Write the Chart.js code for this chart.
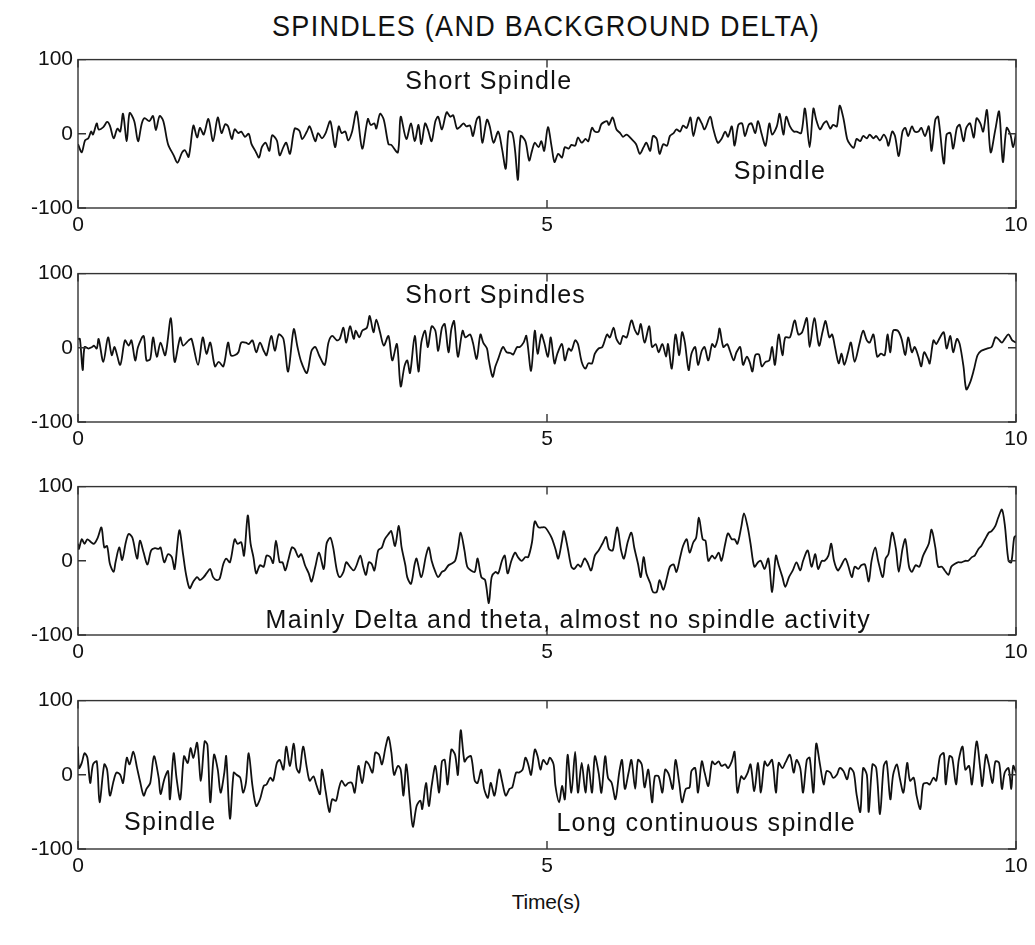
<!DOCTYPE html>
<html>
<head>
<meta charset="utf-8">
<script src="https://cdn.jsdelivr.net/npm/chart.js@4.4.1/dist/chart.umd.min.js"></script>
<style>
  html, body { margin: 0; padding: 0; background: #fff; }
  body { width: 1035px; height: 945px; position: relative; overflow: hidden; }
  canvas { position: absolute; left: 0; }
  .lbl { position: absolute; left: 0; width: 1092px; text-align: center; color: #111;
         font-family: "Liberation Sans", Arial, sans-serif; white-space: nowrap; }
  #title { top: 11px; font-size: 27px; letter-spacing: 1.3px; transform: scaleY(1.08); }
  #xlabel { top: 890px; font-size: 21px; letter-spacing: -0.3px; }
</style>
</head>
<body>
<div id="title" class="lbl">SPINDLES (AND BACKGROUND DELTA)</div>
<div id="xlabel" class="lbl">Time(s)</div>
<canvas id="c1" width="1035" height="206" style="top:42px"></canvas>
<canvas id="c2" width="1035" height="206" style="top:256px"></canvas>
<canvas id="c3" width="1035" height="206" style="top:469px"></canvas>
<canvas id="c4" width="1035" height="206" style="top:683px"></canvas>
<script>
// ---------- DATA (time in s, amplitude) ----------
const xTicks = [0, 5, 10];
const yTicks = [-100, 0, 100];

const t1 = [0,0.04,0.075,0.11,0.14,0.16,0.2,0.22,0.27,0.31,0.34,0.38,0.42,0.45,0.48,0.52,0.55,0.6,0.64,0.68,0.71,0.76,0.8,0.83,0.87,0.91,0.96,1.02,1.06,1.11,1.14,1.18,1.23,1.27,1.3,1.34,1.39,1.44,1.49,1.53,1.57,1.6,1.64,1.67,1.71,1.74,1.78,1.82,1.85,1.89,1.93,1.96,2.0,2.04,2.07,2.12,2.15,2.19,2.22,2.26,2.31,2.36,2.39,2.44,2.47,2.53,2.56,2.6,2.64,2.69,2.74,2.78,2.81,2.85,2.88,2.92,2.97,3.03,3.09,3.12,3.16,3.18,3.22,3.26,3.31,3.34,
3.41,3.44,3.5,3.55,3.59,3.63,3.66,3.7,3.73,3.77,3.81,3.84,3.88,3.93,3.97,4.0,4.04,4.07,4.11,4.14,4.18,4.21,4.25,4.28,4.31,4.36,4.39,4.43,4.48,4.52,4.56,4.59,4.63,4.66,4.69,4.72,4.77,4.81,4.84,4.87,4.91,4.94,4.97,5.01,5.05,5.08,5.12,5.16,5.19,5.23,5.26,5.3,5.33,5.37,5.41,5.44,5.48,5.51,5.55,5.58,5.64,5.66,5.7,5.74,5.78,5.81,5.85,5.9,5.95,5.99,6.03,6.06,6.1,6.13,6.17,6.2,6.24,6.28,6.31,6.35,6.38,6.42,6.45,6.49,6.53,6.56,6.61,6.65,6.68,
6.74,6.77,6.82,6.86,6.9,6.93,6.97,7.0,7.04,7.08,7.11,7.15,7.18,7.22,7.25,7.29,7.33,7.37,7.4,7.45,7.48,7.52,7.55,7.59,7.63,7.66,7.71,7.75,7.8,7.84,7.87,7.91,7.95,7.98,8.02,8.05,8.09,8.12,8.16,8.2,8.23,8.27,8.3,8.34,8.37,8.41,8.44,8.48,8.51,8.55,8.59,8.62,8.64,8.68,8.71,8.75,8.79,8.82,8.85,8.89,8.92,8.96,8.99,9.03,9.07,9.1,9.14,9.17,9.23,9.26,9.3,9.33,9.37,9.4,9.44,9.47,9.51,9.55,9.58,9.62,9.65,9.69,9.73,9.78,9.82,9.86,9.9,9.94,9.97,10.0];
const v1 = [-14,-25,-9,-6,3,-1,14,6,9,16,11,-6,7,3,27,-10,28,17,-10,14,21,17,24,5,24,17,-14,-29,-39,-25,-22,-31,11,-5,8,-1,20,-10,22,1,13,10,-7,6,1,3,-4,0,-14,-23,-32,-18,-12,-23,-2,-9,-29,-18,-12,-27,7,4,-7,3,10,-10,1,-6,1,17,-18,10,1,3,-9,2,30,-20,20,12,14,7,27,19,-14,-15,
-25,23,-7,14,-10,12,-14,14,6,-10,17,23,6,29,23,25,7,9,14,10,11,-3,19,23,-12,19,10,-12,3,-20,-47,3,1,-23,-62,-3,-10,-36,-23,-12,-18,-10,-23,9,-18,-38,-27,-32,-18,-20,-15,-16,-5,-12,-7,-10,8,3,3,13,17,12,22,6,1,-4,-1,-7,-14,-27,-18,-12,-23,-3,-7,-27,-14,-16,-3,1,6,3,11,8,22,-3,22,14,6,
23,8,-12,-7,3,-4,10,-16,12,14,-3,12,14,1,17,-1,-16,14,-1,10,27,-1,23,10,3,3,1,34,-18,34,19,6,14,17,7,12,10,38,21,-7,-14,-19,-7,-10,-3,-6,-1,-6,-3,-9,-1,-7,-16,3,-3,-30,3,8,-3,10,3,3,8,-3,10,-23,19,23,-40,-1,1,-20,8,12,-10,8,14,-5,21,14,3,32,-25,6,30,-38,8,-1,-18,1];

const t2 = [0,0.02,0.05,0.07,0.11,0.15,0.17,0.2,0.22,0.27,0.32,0.36,0.39,0.45,0.5,0.54,0.57,0.61,0.64,0.7,0.73,0.77,0.8,0.84,0.88,0.93,0.99,1.03,1.09,1.12,1.18,1.21,1.28,1.33,1.37,1.41,1.46,1.5,1.55,1.6,1.63,1.67,1.71,1.74,1.79,1.82,1.86,1.9,1.94,1.98,2.01,2.06,2.1,2.14,2.19,2.24,2.3,2.34,2.38,2.44,2.49,2.53,2.57,2.63,2.67,2.71,2.76,2.79,2.83,2.86,2.9,2.94,2.96,3.0,3.03,3.08,3.11,3.15,3.18,3.22,3.26,3.31,3.35,
3.4,3.44,3.48,3.51,3.54,3.59,3.63,3.66,3.7,3.73,3.77,3.81,3.84,3.88,3.91,3.95,3.98,4.01,4.05,4.1,4.13,4.18,4.21,4.25,4.29,4.32,4.36,4.38,4.42,4.45,4.48,4.53,4.57,4.61,4.64,4.68,4.71,4.75,4.78,4.83,4.87,4.9,4.94,4.97,5.01,5.04,5.08,5.11,5.16,5.19,5.23,5.26,5.3,5.33,5.37,5.41,5.44,5.48,5.51,5.55,5.59,5.64,5.67,5.71,5.74,5.78,5.81,5.85,5.9,5.94,5.97,6.0,6.04,6.09,6.12,6.16,6.19,6.23,6.27,6.29,6.33,6.37,6.41,6.44,6.47,6.51,6.54,6.58,6.61,6.65,6.68,
6.72,6.76,6.79,6.82,6.84,6.88,6.92,6.95,6.99,7.02,7.06,7.09,7.13,7.16,7.19,7.22,7.26,7.29,7.33,7.37,7.4,7.43,7.47,7.51,7.54,7.59,7.64,7.68,7.72,7.77,7.8,7.85,7.9,7.94,7.97,8.01,8.04,8.07,8.11,8.14,8.17,8.21,8.24,8.28,8.33,8.37,8.41,8.44,8.48,8.52,8.56,8.6,8.63,8.66,8.69,8.74,8.78,8.82,8.85,8.89,8.92,8.96,8.99,9.02,9.06,9.08,9.12,9.15,9.19,9.23,9.26,9.3,9.33,9.37,9.4,9.44,9.47,9.51,9.55,9.59,9.63,9.69,9.74,9.78,9.81,9.85,9.88,9.92,9.96,10.0];
const v2 = [12,12,-30,1,-1,1,3,-1,12,-19,14,-10,1,-23,10,3,10,-17,1,16,-17,-15,14,-12,7,-10,40,-19,14,3,10,12,-23,14,-8,7,-25,-19,-25,7,-10,-10,-6,7,7,5,10,-6,7,-4,-10,16,-4,18,12,-32,25,1,-19,-34,-4,1,-10,-23,7,16,10,12,27,7,29,12,23,14,23,27,43,21,38,21,3,16,-17,
5,-52,-25,-17,-34,16,-32,7,23,1,29,23,-4,27,32,-6,25,36,-12,23,14,18,7,-15,18,7,-1,-17,-39,-25,-15,1,-6,-7,-9,1,1,7,16,-31,23,-8,18,7,-12,14,-21,-8,5,-17,-1,-4,10,5,-19,-28,-21,-21,-8,-1,1,18,14,27,12,5,16,14,37,23,18,32,7,29,1,5,-6,5,-12,5,-28,18,-10,21,7,-30,-8,1,-23,-4,1,
-17,5,1,12,26,1,5,-4,-17,-6,1,-23,-12,-19,-32,-10,-9,-25,-19,-17,1,-23,18,-10,14,14,37,18,21,40,1,40,3,23,36,14,18,1,-21,-8,-23,-6,7,-19,5,23,10,7,18,-12,-8,-10,18,-6,23,23,12,-10,14,-6,1,-12,-25,-6,-15,-21,10,5,14,21,-1,16,-6,12,5,-25,-56,-47,-30,-10,-4,-1,1,14,12,7,12,18,10,7];

const t3 = [0,0.01,0.04,0.07,0.1,0.14,0.17,0.21,0.25,0.28,0.31,0.34,0.38,0.4,0.44,0.47,0.51,0.54,0.58,0.63,0.66,0.7,0.74,0.78,0.82,0.86,0.88,0.92,0.96,1.0,1.03,1.08,1.12,1.15,1.19,1.23,1.27,1.3,1.34,1.37,1.41,1.44,1.48,1.51,1.55,1.58,1.62,1.67,1.7,1.74,1.77,1.81,1.84,1.87,1.9,1.94,1.98,2.01,2.05,2.08,2.11,2.15,2.18,2.21,2.24,2.28,2.31,2.35,2.38,2.42,2.46,2.49,2.53,2.57,2.62,2.65,2.69,2.72,2.76,2.79,2.83,2.86,2.9,2.94,2.97,3.01,3.04,3.07,3.1,3.13,3.16,3.2,3.24,3.27,3.31,3.34,3.38,
3.42,3.45,3.49,3.51,3.55,3.59,3.61,3.66,3.71,3.74,3.77,3.81,3.84,3.88,3.91,3.95,3.98,4.02,4.05,4.08,4.12,4.15,4.19,4.23,4.26,4.3,4.34,4.38,4.41,4.45,4.48,4.52,4.55,4.58,4.62,4.66,4.69,4.73,4.77,4.8,4.84,4.87,4.91,4.94,4.98,5.01,5.05,5.09,5.12,5.16,5.18,5.22,5.26,5.29,5.33,5.36,5.4,5.43,5.47,5.51,5.55,5.59,5.63,5.66,5.7,5.72,5.75,5.79,5.82,5.86,5.9,5.93,5.97,6.0,6.03,6.06,6.1,6.13,6.17,6.2,6.24,6.28,6.31,6.35,6.38,6.42,6.45,6.49,6.52,6.56,6.59,6.62,6.66,6.69,
6.72,6.76,6.79,6.83,6.86,6.9,6.93,6.97,7.0,7.03,7.07,7.1,7.14,7.17,7.21,7.25,7.28,7.32,7.36,7.4,7.44,7.47,7.51,7.54,7.58,7.62,7.66,7.7,7.73,7.78,7.82,7.86,7.89,7.93,7.96,8.0,8.03,8.06,8.1,8.13,8.18,8.21,8.25,8.28,8.32,8.35,8.39,8.43,8.46,8.5,8.53,8.58,8.61,8.64,8.68,8.72,8.75,8.79,8.82,8.86,8.89,8.93,8.97,9.01,9.07,9.1,9.14,9.17,9.21,9.24,9.28,9.31,9.35,9.38,9.42,9.46,9.49,9.53,9.56,9.6,9.63,9.67,9.71,9.74,9.78,9.81,9.85,9.88,9.92,9.95,9.98,10.0];
const v3 = [23,16,29,23,29,25,23,31,45,18,20,-4,-15,-2,18,1,25,36,31,3,27,11,-5,14,17,16,18,-2,9,5,-11,41,9,-17,-37,-28,-22,-26,-22,-17,-11,-22,-26,-24,-4,3,-2,29,23,25,7,61,23,5,-17,-6,-8,7,5,-3,27,-2,-2,-13,0,18,16,5,9,-6,-17,-28,-8,11,-11,23,31,18,-13,-22,-15,-2,-8,-13,-6,7,-8,-19,-2,-4,-13,14,18,29,36,40,20,
47,18,-6,-22,-31,-4,3,-22,7,18,0,-15,-22,-15,-13,-6,-4,0,16,38,14,-8,-13,-15,3,-22,-26,-57,-22,-15,-17,0,7,-17,0,11,5,0,5,5,25,53,45,45,45,40,31,16,3,27,40,18,-8,-11,-5,-8,3,-2,-13,7,14,23,32,16,14,27,45,14,3,25,38,18,-4,-22,5,-17,-30,-42,-42,-26,-39,-22,-8,-5,-15,5,20,29,11,25,31,58,29,27,
0,7,3,11,0,23,37,29,29,23,45,64,45,23,-8,-2,0,-11,3,-42,7,-6,-22,-35,-22,-13,-2,-13,0,14,-8,9,-11,0,0,7,23,0,-13,-8,3,-6,-22,-8,-11,-6,-5,-28,0,18,0,-22,3,9,38,16,-15,16,29,-8,-15,-6,-8,7,23,42,18,-8,-8,-13,-19,-8,-4,-2,-2,0,0,5,7,16,20,29,38,40,47,58,69,49,0,-2,31,34];

const t4 = [0,0.01,0.04,0.07,0.1,0.13,0.16,0.2,0.23,0.28,0.31,0.34,0.38,0.41,0.45,0.48,0.52,0.55,0.59,0.63,0.66,0.7,0.73,0.77,0.81,0.86,0.88,0.92,0.96,0.98,1.02,1.05,1.09,1.13,1.17,1.2,1.23,1.27,1.31,1.35,1.38,1.41,1.45,1.49,1.52,1.56,1.58,1.62,1.66,1.69,1.73,1.76,1.79,1.82,1.86,1.9,1.94,1.98,2.01,2.05,2.08,2.12,2.15,2.19,2.22,2.26,2.3,2.33,2.36,2.4,2.44,2.47,2.51,2.54,2.58,2.6,2.64,2.68,2.71,2.75,2.78,2.81,2.85,2.88,2.92,2.95,2.99,3.03,3.07,3.1,3.14,3.17,3.21,3.24,3.28,3.31,3.34,3.37,
3.41,3.44,3.47,3.5,3.54,3.57,3.61,3.65,3.67,3.71,3.74,3.77,3.81,3.85,3.88,3.91,3.94,3.98,4.02,4.05,4.08,4.12,4.15,4.19,4.23,4.26,4.3,4.33,4.37,4.4,4.44,4.49,4.52,4.56,4.6,4.63,4.67,4.7,4.74,4.77,4.8,4.83,4.87,4.9,4.93,4.96,5.0,5.03,5.07,5.09,5.13,5.16,5.19,5.22,5.26,5.3,5.33,5.37,5.41,5.44,5.48,5.51,5.55,5.58,5.62,5.65,5.69,5.73,5.77,5.8,5.83,5.87,5.9,5.94,5.97,6.01,6.04,6.08,6.12,6.15,6.19,6.23,6.26,6.3,6.34,6.37,6.41,6.44,6.48,6.52,6.54,6.58,6.61,6.65,6.68,
6.72,6.76,6.79,6.83,6.86,6.9,6.93,6.97,7.0,7.03,7.07,7.1,7.14,7.17,7.21,7.25,7.28,7.32,7.35,7.4,7.44,7.47,7.51,7.54,7.59,7.63,7.66,7.7,7.73,7.77,7.8,7.84,7.87,7.91,7.95,7.98,8.02,8.05,8.09,8.12,8.16,8.2,8.23,8.27,8.3,8.34,8.37,8.41,8.43,8.47,8.51,8.55,8.59,8.62,8.66,8.69,8.73,8.76,8.8,8.84,8.87,8.91,8.94,8.98,9.01,9.05,9.08,9.12,9.15,9.19,9.23,9.25,9.29,9.32,9.36,9.39,9.43,9.46,9.5,9.53,9.58,9.62,9.64,9.68,9.71,9.75,9.78,9.82,9.85,9.88,9.92,9.95,9.97,10.0];
const v4 = [38,9,16,29,23,-11,14,18,-37,14,7,-28,-8,3,0,-11,23,14,31,9,-8,-28,-19,-11,25,-4,-26,-6,5,-33,29,-4,-33,25,16,36,23,43,-8,45,40,-37,27,7,-24,3,25,-59,3,0,-4,-24,-11,29,-15,-42,-33,-15,-13,-4,-8,16,20,7,38,12,42,9,3,38,9,-8,-2,-13,-26,7,-22,-50,-33,-35,-19,-8,-15,-11,-11,-24,12,-11,18,14,3,30,27,14,38,51,31,0,
12,7,-28,14,-37,-70,-42,-35,-46,-11,-42,-15,12,-24,18,20,-13,34,27,0,60,18,23,25,-8,-11,7,-19,-31,-11,-28,7,-8,-28,-19,-17,3,3,7,23,14,0,34,25,7,20,14,23,14,-15,-37,-15,-33,27,-24,31,-24,16,-24,14,-24,25,3,-24,25,-4,-11,-33,3,20,-19,3,20,-19,20,14,-17,7,-37,-2,-2,-24,7,0,-19,20,-11,-37,-19,-17,5,9,-24,18,3,
-15,18,14,18,12,14,9,18,31,-24,-2,-6,3,14,-22,16,-24,18,12,20,-24,16,9,16,27,3,20,9,-24,20,23,-24,42,14,-13,5,3,-4,0,9,5,-6,9,3,-26,-50,9,0,-50,14,9,-53,12,18,-33,0,14,-4,-24,16,-8,-4,-28,-46,-13,-11,-13,-4,-8,25,29,-13,25,23,-13,20,38,7,12,-13,45,7,-15,27,14,-11,18,16,-19,3,9,-19,12,3];

// Panel annotations: [text, time, amplitude]
const notes1 = [["Short Spindle", 3.49, 70], ["Spindle", 6.99, -51]];
const notes2 = [["Short Spindles", 3.49, 69]];
const notes3 = [["Mainly Delta and theta, almost no spindle activity", 2.0, -81]];
const notes4 = [["Spindle", 0.49, -65], ["Long continuous spindle", 5.1, -66]];

// ---------- DRAWING ----------
const FONT = '"Liberation Sans", Arial, sans-serif';

const framePlugin = {
  id: 'frame',
  afterDraw(chart) {
    const { ctx, chartArea: a, scales: { x, y } } = chart;
    ctx.save();
    ctx.strokeStyle = '#333';
    ctx.lineWidth = 1.4;
    ctx.strokeRect(a.left, a.top, a.right - a.left, a.bottom - a.top);
    const L = 8;
    ctx.beginPath();
    x.ticks.forEach(tk => {
      const px = x.getPixelForValue(tk.value);
      ctx.moveTo(px, a.top); ctx.lineTo(px, a.top + L);
      ctx.moveTo(px, a.bottom); ctx.lineTo(px, a.bottom - L);
    });
    y.ticks.forEach(tk => {
      const py = y.getPixelForValue(tk.value);
      ctx.moveTo(a.left, py); ctx.lineTo(a.left + L, py);
      ctx.moveTo(a.right, py); ctx.lineTo(a.right - L, py);
    });
    ctx.stroke();
    const notes = chart.options.plugins.frame.notes || [];
    ctx.fillStyle = '#111';
    ctx.font = '25px ' + FONT;
    try { ctx.letterSpacing = '1.3px'; } catch (e) {}
    ctx.textAlign = 'left';
    ctx.textBaseline = 'middle';
    notes.forEach(([txt, tx, ty]) => {
      ctx.fillText(txt, x.getPixelForValue(tx), y.getPixelForValue(ty));
    });
    ctx.restore();
  }
};

function makePanel(id, ts, vs, notes) {
  const pts = ts.map((t, i) => ({ x: t, y: vs[i] }));
  return new Chart(document.getElementById(id), {
    type: 'line',
    data: { datasets: [{ data: pts, borderColor: '#111', borderWidth: 1.8,
      pointRadius: 0, tension: 0.3, fill: false }] },
    options: {
      responsive: false, animation: false, devicePixelRatio: 1,
      layout: { padding: { top: 14, right: 19, left: 0, bottom: 0 } },
      plugins: { legend: { display: false }, tooltip: { enabled: false },
                 frame: { notes: notes } },
      scales: {
        x: {
          type: 'linear', min: 0, max: 10,
          afterBuildTicks: s => { s.ticks = xTicks.map(v => ({ value: v })); },
          afterFit: s => { s.height = 40; },
          grid: { display: false, drawTicks: false }, border: { display: false },
          ticks: { color: '#111', padding: 5, maxRotation: 0, autoSkip: false,
                   font: { family: FONT, size: 21 } }
        },
        y: {
          type: 'linear', min: -100, max: 100,
          afterBuildTicks: s => { s.ticks = yTicks.map(v => ({ value: v })); },
          afterFit: s => { s.width = 78; },
          grid: { display: false, drawTicks: false }, border: { display: false },
          ticks: { color: '#111', padding: 5, autoSkip: false,
                   font: { family: FONT, size: 21 } }
        }
      }
    },
    plugins: [framePlugin]
  });
}

makePanel('c1', t1, v1, notes1);
makePanel('c2', t2, v2, notes2);
makePanel('c3', t3, v3, notes3);
makePanel('c4', t4, v4, notes4);
</script>
</body>
</html>
